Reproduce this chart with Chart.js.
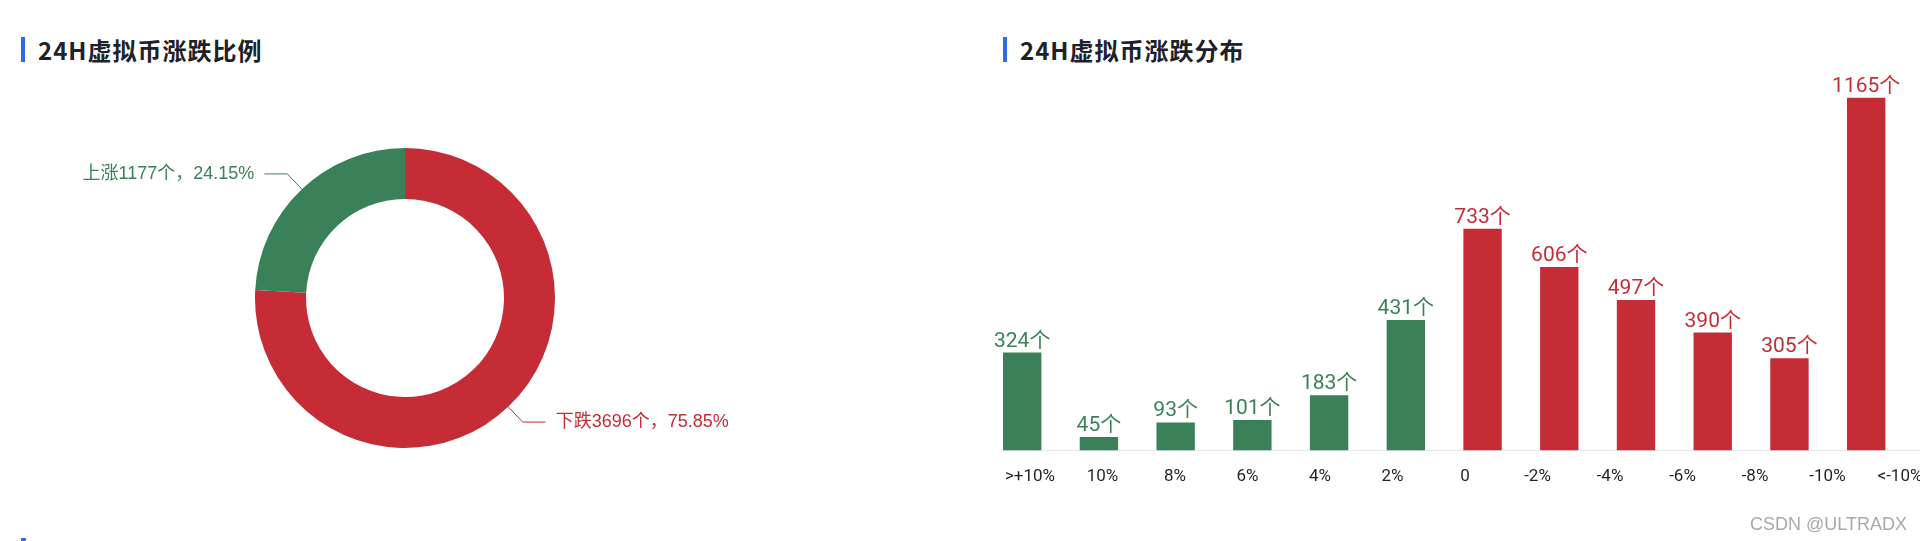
<!DOCTYPE html>
<html>
<head>
<meta charset="utf-8">
<script src="https://cdn.jsdelivr.net/npm/chart.js"></script>
<style>
  html, body { margin: 0; padding: 0; background: #fff; width: 1920px; height: 541px; overflow: hidden; }
  .title { position: absolute; top: 32px; height: 25px; line-height: 25px; font: bold 24px "Noto Sans CJK SC", sans-serif; color: #1d2129; letter-spacing: 1px; white-space: nowrap; }
  .title i { position: absolute; left: -17px; top: 5px; width: 4px; height: 25px; background: #2a6de6; }
  .box { position: absolute; }
  .mark { position: absolute; left: 1750px; top: 514px; font: 18px "Liberation Sans", sans-serif; color: #a9a9a9; white-space: nowrap; text-shadow: 0 0 1px #fff; }
  .stub { position: absolute; left: 21px; top: 538px; width: 5px; height: 10px; background: #2a6de6; }
</style>
</head>
<body>
<div class="title" style="left:38px"><i></i>24H虚拟币涨跌比例</div>
<div class="title" style="left:1020px"><i></i>24H虚拟币涨跌分布</div>

<div class="box" style="left:0; top:98px; width:810px; height:400px;">
  <canvas id="pieChart"></canvas>
</div>
<div class="box" style="left:960px; top:0; width:1000px; height:541px;">
  <canvas id="barChart"></canvas>
</div>
<div class="mark">CSDN @ULTRADX</div>
<div class="stub"></div>

<script>
// setup
const pieLabels = ['下跌', '上涨'];
const pieValues = [3696, 1177];

const tickLabels = ['>+10%', '10%', '8%', '6%', '4%', '2%', '0', '-2%', '-4%', '-6%', '-8%', '-10%', '<-10%'];
const barValues = [324, 45, 93, 101, 183, 431, 733, 606, 497, 390, 305, 1165];

const green = '#3a8159';
const red = '#c62c35';
const pieColors = [red, green];
const barColors = barValues.map((v, i) => i < 6 ? green : red);

Chart.defaults.font.family = 'Roboto, "Noto Sans CJK SC", sans-serif';
Chart.defaults.animation = false;

// callout lines + labels for the doughnut
const pieCallout = {
  id: 'pieCallout',
  afterDatasetsDraw(chart) {
    const ctx = chart.ctx;
    const total = pieValues.reduce((a, b) => a + b, 0);
    ctx.save();
    ctx.font = '18px "Liberation Sans", "Noto Sans CJK SC", sans-serif';
    ctx.textBaseline = 'middle';
    ctx.lineWidth = 1;
    chart.getDatasetMeta(0).data.forEach((arc, i) => {
      const mid = (arc.startAngle + arc.endAngle) / 2;
      const cos = Math.cos(mid), sin = Math.sin(mid);
      const r = arc.outerRadius;
      const x0 = arc.x + cos * r, y0 = arc.y + sin * r;
      const x1 = arc.x + cos * (r + 21), y1 = arc.y + sin * (r + 21);
      const dir = cos >= 0 ? 1 : -1;
      const x2 = x1 + dir * 23;
      ctx.strokeStyle = pieColors[i];
      ctx.beginPath();
      ctx.moveTo(x0, y0);
      ctx.lineTo(x1, y1);
      ctx.lineTo(x2, y1);
      ctx.stroke();
      const pct = (pieValues[i] / total * 100).toFixed(2);
      ctx.fillStyle = pieColors[i];
      ctx.textAlign = dir > 0 ? 'left' : 'right';
      ctx.fillText(pieLabels[i] + pieValues[i] + '个，' + pct + '%', x2 + dir * 10, y1);
    });
    ctx.restore();
  }
};

// value labels above bars
const valueLabels = {
  id: 'valueLabels',
  afterDatasetsDraw(chart) {
    const ctx = chart.ctx;
    ctx.save();
    ctx.font = '21px Roboto, "Noto Sans CJK SC", sans-serif';
    ctx.textAlign = 'center';
    ctx.textBaseline = 'alphabetic';
    chart.getDatasetMeta(0).data.forEach((bar, i) => {
      ctx.fillStyle = barColors[i];
      ctx.fillText(barValues[i] + '个', bar.x, bar.y - 6);
    });
    ctx.restore();
  }
};

new Chart(document.getElementById('pieChart'), {
  type: 'doughnut',
  data: {
    labels: pieLabels,
    datasets: [{
      data: pieValues,
      backgroundColor: pieColors,
      borderWidth: 0
    }]
  },
  options: {
    responsive: true,
    maintainAspectRatio: false,
    radius: 150,
    cutout: '66%',
    plugins: { legend: { display: false }, tooltip: { enabled: false } }
  },
  plugins: [pieCallout]
});

new Chart(document.getElementById('barChart'), {
  type: 'bar',
  data: {
    datasets: [{
      data: barValues.map((v, i) => ({ x: i, y: v })),
      backgroundColor: barColors,
      barPercentage: 0.5,
      categoryPercentage: 1
    }]
  },
  options: {
    responsive: true,
    maintainAspectRatio: false,
    layout: { padding: { left: 43, right: 20, top: 57, bottom: 38 } },
    plugins: { legend: { display: false }, tooltip: { enabled: false } },
    scales: {
      x: { type: 'linear', min: -0.25, max: 11.962, offset: false, display: false },
      x2: {
        type: 'linear',
        position: 'bottom',
        min: -0.3724,
        max: 12.552,
        offset: false,
        grid: { display: false, drawTicks: false, offset: false },
        border: { color: '#e6e8ee' },
        ticks: {
          stepSize: 1,
          maxTicksLimit: 20,
          includeBounds: false,
          autoSkip: false,
          maxRotation: 0,
          padding: 16,
          color: '#1f2329',
          font: { size: 17 },
          callback: v => tickLabels[v] ?? ''
        }
      },
      y: { display: false, min: 0, max: 1300 }
    }
  },
  plugins: [valueLabels]
});
</script>
</body>
</html>
